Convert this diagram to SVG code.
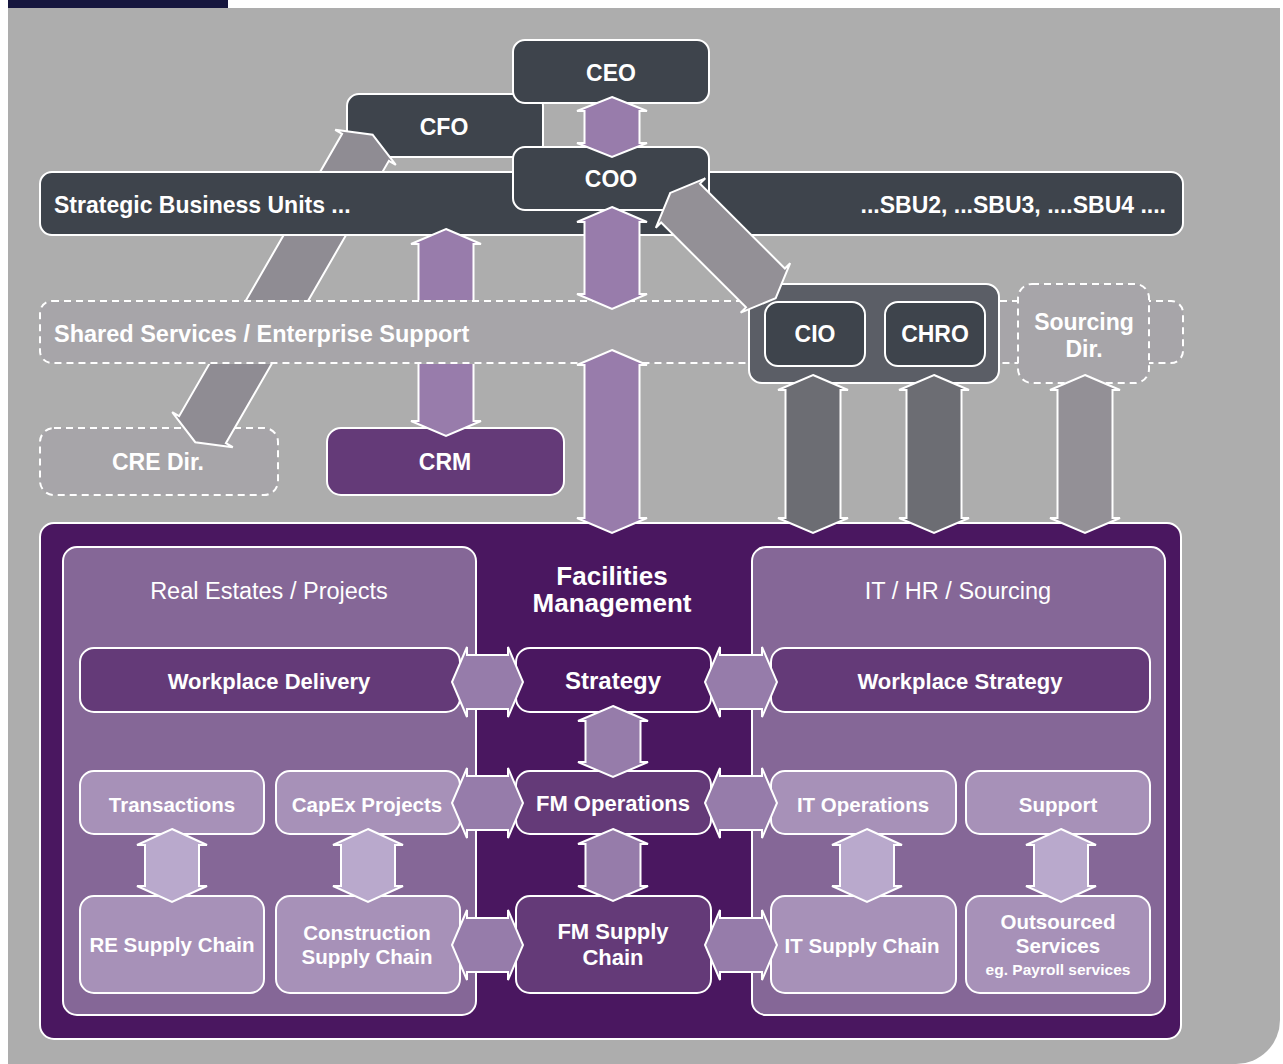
<svg xmlns="http://www.w3.org/2000/svg" width="1283" height="1064" viewBox="0 0 1283 1064">
<style>
.n rect{stroke:#fff;stroke-width:2}
.dk{fill:#3e444c}
.pu{fill:#643a78}
.dp{fill:#4a1760}
.pn{fill:#856797}
.lt{fill:#a791b8}
.ds{fill:#a7a5a9;stroke-dasharray:7 5}
.ct{fill:#5b5e66}
text{font-family:"Liberation Sans",Arial,Helvetica,sans-serif;fill:#fff;font-weight:bold;text-anchor:middle}
.rg{font-weight:normal}
.c polygon{stroke:#fff;stroke-width:2;stroke-linejoin:miter}
.ap{fill:#987cab}
.ag{fill:#8f8c93}
.ag2{fill:#939096}
.ad{fill:#6c6d73}
.am{fill:#967caa}
.al{fill:#b9a9cc}
</style>
<defs>
<mask id="mBand" maskUnits="userSpaceOnUse" x="0" y="0" width="1283" height="1064">
<rect width="1283" height="1064" fill="#fff"/>
<rect x="39" y="300" width="1146" height="64" fill="#000"/>
</mask>
<mask id="mBandSbu" maskUnits="userSpaceOnUse" x="0" y="0" width="1283" height="1064">
<rect width="1283" height="1064" fill="#fff"/>
<rect x="39" y="300" width="1146" height="64" fill="#000"/>
<rect x="39" y="171" width="1146" height="65" fill="#000"/>
</mask>
</defs>
<rect width="1283" height="1064" fill="#fff"/>
<rect x="8" y="0" width="220" height="8" fill="#16163e"/>
<path d="M8,8 H1280 V1020 A44,44 0 0 1 1236,1064 H8 Z" fill="#adadad"/>

<g id="cre-dir" class="n"><rect class="ds" x="40" y="428" width="238" height="67" rx="14"/><text x="158" y="470" font-size="23">CRE Dir.</text></g>
<g id="crm" class="n"><rect class="pu" x="327" y="428" width="237" height="67" rx="14"/><text x="445" y="470" font-size="23">CRM</text></g>
<g id="cfo" class="n"><rect class="dk" x="347" y="94" width="196" height="63" rx="12"/><text x="444" y="135" font-size="23">CFO</text></g>
<g id="sbu" class="n"><rect class="dk" x="40" y="172" width="1143" height="63" rx="12"/><text x="54" y="213" font-size="23" style="text-anchor:start">Strategic Business Units ...</text><text x="1166" y="213" font-size="23" style="text-anchor:end">...SBU2, ...SBU3, ....SBU4 ....</text></g>
<g id="shared-services" class="n"><rect class="ds" x="40" y="301" width="1143" height="62" rx="12"/><text x="54" y="342" font-size="23.5" style="text-anchor:start">Shared Services / Enterprise Support</text></g>
<g id="cio-chro-group" class="n"><rect class="ct" x="749" y="284" width="250" height="99" rx="13"/></g>
<g id="cio" class="n"><rect class="dk" x="765" y="302" width="100" height="64" rx="13"/><text x="815" y="342" font-size="23">CIO</text></g>
<g id="chro" class="n"><rect class="dk" x="885" y="302" width="100" height="64" rx="13"/><text x="935" y="342" font-size="23">CHRO</text></g>
<g id="sourcing-dir" class="n"><rect class="ds" x="1018" y="284" width="131" height="99" rx="14"/><text x="1084" y="330" font-size="23">Sourcing</text><text x="1084" y="357" font-size="23">Dir.</text></g>
<g id="ceo" class="n"><rect class="dk" x="513" y="40" width="196" height="63" rx="12"/><text x="611" y="81" font-size="23">CEO</text></g>
<g id="coo" class="n"><rect class="dk" x="513" y="147" width="196" height="63" rx="12"/><text x="611" y="187" font-size="23">COO</text></g>

<g id="facilities-management" class="n"><rect class="dp" x="40" y="523" width="1141" height="516" rx="14"/><text x="612" y="585" font-size="26">Facilities</text><text x="612" y="612" font-size="26">Management</text></g>
<g id="real-estates-projects" class="n"><rect class="pn" x="63" y="547" width="413" height="468" rx="14"/><text class="rg" x="269" y="599" font-size="23.5">Real Estates / Projects</text></g>
<g id="it-hr-sourcing" class="n"><rect class="pn" x="752" y="547" width="413" height="468" rx="14"/><text class="rg" x="958" y="599" font-size="23.5">IT / HR / Sourcing</text></g>
<g id="workplace-delivery" class="n"><rect class="pu" x="80" y="648" width="380" height="64" rx="14"/><text x="269" y="689" font-size="22">Workplace Delivery</text></g>
<g id="strategy" class="n"><rect class="dp" x="516" y="648" width="195" height="64" rx="14"/><text x="613" y="689" font-size="24">Strategy</text></g>
<g id="workplace-strategy" class="n"><rect class="pu" x="771" y="648" width="379" height="64" rx="14"/><text x="960" y="689" font-size="22">Workplace Strategy</text></g>
<g id="transactions" class="n"><rect class="lt" x="80" y="771" width="184" height="63" rx="14"/><text x="172" y="812" font-size="20.5">Transactions</text></g>
<g id="capex-projects" class="n"><rect class="lt" x="276" y="771" width="184" height="63" rx="14"/><text x="367" y="812" font-size="20.5">CapEx Projects</text></g>
<g id="fm-operations" class="n"><rect class="pu" x="516" y="771" width="195" height="63" rx="14"/><text x="613" y="811" font-size="22">FM Operations</text></g>
<g id="it-operations" class="n"><rect class="lt" x="771" y="771" width="185" height="63" rx="14"/><text x="863" y="812" font-size="20.5">IT Operations</text></g>
<g id="support" class="n"><rect class="lt" x="966" y="771" width="184" height="63" rx="14"/><text x="1058" y="812" font-size="20.5">Support</text></g>
<g id="re-supply-chain" class="n"><rect class="lt" x="80" y="896" width="184" height="97" rx="14"/><text x="172" y="952" font-size="20.5">RE Supply Chain</text></g>
<g id="construction-supply-chain" class="n"><rect class="lt" x="276" y="896" width="184" height="97" rx="14"/><text x="367" y="940" font-size="20.5">Construction</text><text x="367" y="964" font-size="20.5">Supply Chain</text></g>
<g id="fm-supply-chain" class="n"><rect class="pu" x="516" y="896" width="195" height="97" rx="14"/><text x="613" y="939" font-size="22">FM Supply</text><text x="613" y="965" font-size="22">Chain</text></g>
<g id="it-supply-chain" class="n"><rect class="lt" x="771" y="896" width="185" height="97" rx="14"/><text x="862" y="953" font-size="20.5">IT Supply Chain</text></g>
<g id="outsourced-services" class="n"><rect class="lt" x="966" y="896" width="184" height="97" rx="14"/><text x="1058" y="929" font-size="20.5">Outsourced</text><text x="1058" y="953" font-size="20.5">Services</text><text x="1058" y="975" font-size="15.5">eg. Payroll services</text></g>

<g id="connectors" class="c">
<g mask="url(#mBandSbu)"><polygon class="ag" transform="translate(284 288.5) rotate(30)" points="0,-177.5 35,-163 27,-163 27,163 35,163 0,177.5 -35,163 -27,163 -27,-163 -35,-163"/></g>
<g mask="url(#mBand)"><polygon class="ap" points="446,229 481,244 473.5,244 473.5,421 481,421 446,436 411,421 418.5,421 418.5,244 411,244"/></g>
<polygon class="ap" points="612,97 647,111 639.5,111 639.5,143 647,143 612,157 577,143 584.5,143 584.5,111 577,111"/>
<polygon class="ap" points="612,207 647,222 639.5,222 639.5,294 647,294 612,309 577,294 584.5,294 584.5,222 577,222"/>
<polygon class="ap" points="612,350 647,365 639.5,365 639.5,518 647,518 612,533 577,518 584.5,518 584.5,365 577,365"/>
<polygon class="ag2" transform="translate(723 245.5) rotate(-45)" points="0,-74.5 35,-60 27.5,-60 27.5,60 35,60 0,74.5 -35,60 -27.5,60 -27.5,-60 -35,-60"/>
<polygon class="ad" points="813,375 848,390 840.5,390 840.5,518 848,518 813,533 778,518 785.5,518 785.5,390 778,390"/>
<polygon class="ad" points="934,375 969,390 961.5,390 961.5,518 969,518 934,533 899,518 906.5,518 906.5,390 899,390"/>
<polygon class="ag2" points="1085,375 1120,390 1112.5,390 1112.5,518 1120,518 1085,533 1050,518 1057.5,518 1057.5,390 1050,390"/>
<polygon class="am" points="452,682 467,647 467,655 508,655 508,647 523,682 508,717 508,709 467,709 467,717"/>
<polygon class="am" points="705,682 720,647 720,655 762,655 762,647 777,682 762,717 762,709 720,709 720,717"/>
<polygon class="am" points="452,803 467,768 467,776 508,776 508,768 523,803 508,838 508,830 467,830 467,838"/>
<polygon class="am" points="705,803 720,768 720,776 762,776 762,768 777,803 762,838 762,830 720,830 720,838"/>
<polygon class="am" points="452,945 467,910 467,918 508,918 508,910 523,945 508,980 508,972 467,972 467,980"/>
<polygon class="am" points="705,945 720,910 720,918 762,918 762,910 777,945 762,980 762,972 720,972 720,980"/>
<polygon class="am" points="613,706 648,721 640.5,721 640.5,762 648,762 613,777 578,762 585.5,762 585.5,721 578,721"/>
<polygon class="am" points="613,829 648,844 640.5,844 640.5,886 648,886 613,901 578,886 585.5,886 585.5,844 578,844"/>
<polygon class="al" points="172,829 207,845 199,845 199,886 207,886 172,902 137,886 145,886 145,845 137,845"/>
<polygon class="al" points="368,829 403,845 395,845 395,886 403,886 368,902 333,886 341,886 341,845 333,845"/>
<polygon class="al" points="867,829 902,845 894,845 894,886 902,886 867,902 832,886 840,886 840,845 832,845"/>
<polygon class="al" points="1061,829 1096,845 1088,845 1088,886 1096,886 1061,902 1026,886 1034,886 1034,845 1026,845"/>
</g>
</svg>
